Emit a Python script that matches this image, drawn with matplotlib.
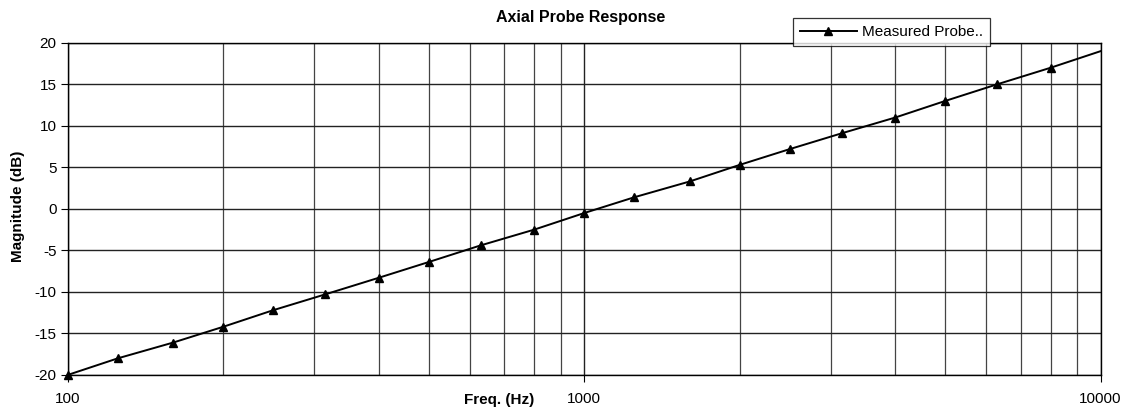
import matplotlib
matplotlib.use("Agg")
import matplotlib.pyplot as plt
from matplotlib.ticker import FixedLocator, NullFormatter

plt.rcParams['font.family'] = ['Liberation Sans', 'DejaVu Sans']
plt.rcParams['axes.unicode_minus'] = False

# Third-octave band centre frequencies and measured magnitude
freq_hz = [100, 125, 160, 200, 250, 315, 400, 500, 630, 800, 1000,
           1250, 1600, 2000, 2500, 3150, 4000, 5000, 6300, 8000, 10000]
magnitude_db = [-20.0, -18.0, -16.1, -14.2, -12.2, -10.3, -8.3, -6.4, -4.4,
                -2.5, -0.5, 1.4, 3.3, 5.3, 7.2, 9.1, 11.0, 13.0, 15.0, 17.0, 19.0]
y_ticks = [-20, -15, -10, -5, 0, 5, 10, 15, 20]
x_ticks = [100, 1000, 10000]
x_tick_labels = ["100", "1000", "10000"]

fig = plt.figure(figsize=(11.3, 4.12), dpi=100)
ax = fig.add_axes([0.060, 0.090, 0.914, 0.806])

ax.plot(freq_hz, magnitude_db, color="black", lw=1.4, marker="^",
        markersize=6, markevery=list(range(len(freq_hz) - 1)),
        label="Measured Probe..", clip_on=False, zorder=3)

ax.set_xscale("log")
ax.set_xlim(100, 10000)
ax.set_ylim(-20, 20)

ax.xaxis.set_major_locator(FixedLocator(x_ticks))
ax.set_xticklabels(x_tick_labels)
minor = [m * d for d in (100, 1000) for m in range(2, 10)]
ax.xaxis.set_minor_locator(FixedLocator(minor))
ax.xaxis.set_minor_formatter(NullFormatter())
ax.set_yticks(y_ticks)

ax.grid(True, which="major", axis="x", color="#222222", lw=1.0)
ax.grid(True, which="minor", axis="x", color="#444444", lw=0.9)
ax.grid(True, which="major", axis="y", color="#222222", lw=1.0)
ax.set_axisbelow(True)

for s in ax.spines.values():
    s.set_color("black")
    s.set_linewidth(1.0)

ax.tick_params(axis="both", which="major", direction="out", length=5,
               width=0.8, labelsize=11, colors="black")
ax.tick_params(axis="x", which="major", pad=7)
ax.tick_params(axis="y", which="major", pad=3)
ax.tick_params(axis="x", which="minor", length=0)

fig.text(0.016, 0.50, "Magnitude (dB)", fontsize=11, fontweight="bold",
         rotation=90, ha="center", va="center")
fig.text(0.442, 0.030, "Freq. (Hz)", fontsize=11, fontweight="bold",
         ha="center", va="center")
fig.text(0.514, 0.958, "Axial Probe Response", fontsize=11.5,
         fontweight="bold", ha="center", va="center")

leg = fig.legend(loc="upper left", bbox_to_anchor=(0.702, 0.956),
                 fontsize=11, frameon=True, fancybox=False,
                 handlelength=3.7, borderpad=0.45, handletextpad=0.35,
                 borderaxespad=0)
leg.get_frame().set_edgecolor("black")
leg.get_frame().set_linewidth(0.9)

fig.savefig("out.png", dpi=100, facecolor="white")
